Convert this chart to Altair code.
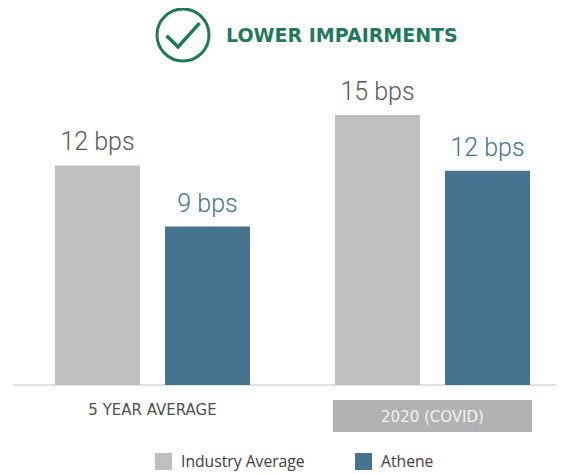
import altair as alt
import pandas as pd

groups = ["5 YEAR AVERAGE", "5 YEAR AVERAGE", "2020 (COVID)", "2020 (COVID)"]
series = ["Industry Average", "Athene", "Industry Average", "Athene"]
heights = [12.2, 8.8, 15.0, 11.9]
labels = ["12 bps", "9 bps", "15 bps", "12 bps"]
group_order = ["5 YEAR AVERAGE", "2020 (COVID)"]
series_order = ["Industry Average", "Athene"]
GREY, BLUE, GREEN = "#bfbfbf", "#44748f", "#1f7a5c"

df = pd.DataFrame({"group": groups, "series": series, "value": heights, "label": labels})

xscale = alt.Scale(domain=group_order, range=[47, 522], paddingInner=0.3036, paddingOuter=0)
xs = alt.X("group:N", sort=group_order, axis=None, scale=xscale)
xo = alt.XOffset("series:N", sort=series_order,
                 scale=alt.Scale(domain=series_order, paddingInner=0.227, paddingOuter=0))
ys = alt.Y("value:Q", axis=None, scale=alt.Scale(domain=[0, 377 / 18], range=[377, 0]))

bars = alt.Chart(df).mark_bar().encode(
    x=xs, xOffset=xo, y=ys,
    color=alt.Color("series:N", sort=series_order,
                    scale=alt.Scale(domain=series_order, range=[GREY, BLUE]),
                    legend=alt.Legend(title=None, orient="none", legendX=147, legendY=445,
                                      direction="horizontal", symbolType="square", symbolSize=289,
                                      symbolStrokeWidth=0, labelFont="Open Sans", labelFontSize=15.7,
                                      labelColor="#404040", labelOffset=9, columnPadding=50,
                                      padding=0, labelLimit=200)),
)
text = alt.Chart(df).mark_text(font="Roboto", fontWeight=300, fontSize=25, baseline="alphabetic", dy=-15).encode(
    x=xs, xOffset=xo, y=ys, text="label:N",
    color=alt.condition(alt.datum.series == "Athene", alt.value(BLUE), alt.value("#595959")),
)
base = alt.Chart(pd.DataFrame({"value": [0]})).mark_rule(color="#d4d6d6", strokeWidth=1.5).encode(
    y=ys, x=alt.value(5), x2=alt.value(556))

covid_box = alt.Chart(pd.DataFrame({"k": [1]})).mark_rect(color="#b1b2b4").encode(
    x=alt.value(325), x2=alt.value(524), y=alt.value(392), y2=alt.value(424))
g1 = alt.Chart(pd.DataFrame({"group": [group_order[0]]})).mark_text(
    font="DejaVu Sans", fontSize=15, color="#505050").encode(
    x=alt.X("group:N", sort=group_order, axis=None, bandPosition=0.5, scale=xscale),
    y=alt.value(402), text="group:N")
g2 = alt.Chart(pd.DataFrame({"group": [group_order[1]]})).mark_text(
    font="DejaVu Sans", fontSize=15, color="#f2f2f2").encode(
    x=alt.X("group:N", sort=group_order, axis=None, bandPosition=0.5, scale=xscale),
    y=alt.value(409), text="group:N")

one = pd.DataFrame({"title": ["LOWER IMPAIRMENTS"]})
circle = alt.Chart(one).mark_point(shape="circle", size=2704, filled=False, color=GREEN, strokeWidth=3, opacity=1).encode(
    x=alt.value(175), y=alt.value(27))
check = alt.Chart(one).mark_point(shape="M-1,0.05 L-0.3,0.72 L1,-0.72", size=1089, filled=False,
                                  color=GREEN, strokeWidth=3.5, opacity=1).encode(
    x=alt.value(175), y=alt.value(27))
title = alt.Chart(one).mark_text(font="DejaVu Sans", fontSize=19, fontWeight="bold", color=GREEN, align="left").encode(
    x=alt.value(218), y=alt.value(28), text="title:N")

chart = alt.layer(base, bars, text, covid_box, g1, g2, circle, check, title).properties(
    width=548, height=466, padding=0, autosize=alt.AutoSizeParams(type="none"), background="white"
).configure_view(stroke=None)

chart.save("out.html", embed_options={"renderer": "svg", "actions": False})
